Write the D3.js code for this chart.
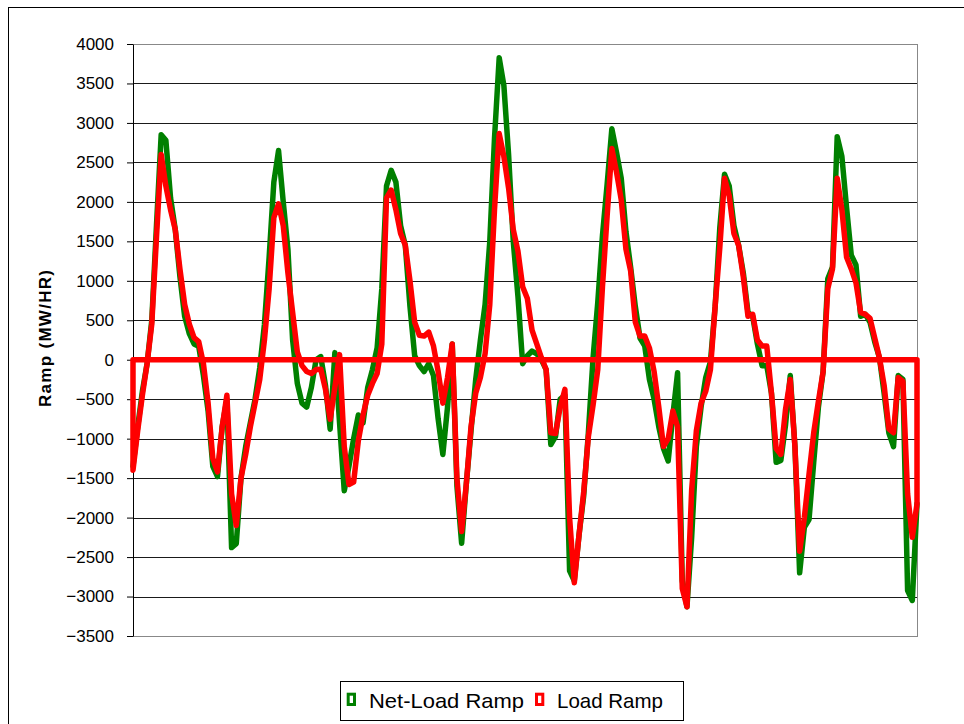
<!DOCTYPE html>
<html><head><meta charset="utf-8">
<script src="https://cdn.jsdelivr.net/npm/d3@7"></script>
<style>body{margin:0;background:#fff}</style>
</head><body>
<svg id="chart" width="964" height="724"></svg>
<script>
// Hourly ramp values (MW/HR) over 7 days
const netLoadRamp = [
  -1350, -850, -400, -50, 500, 1700, 2850, 2780, 2050, 1650, 1050, 550, 330, 200, 170, -200, -650, -1350, -1480, -850, -500, -2380, -2330, -1500,
  -1100, -800, -500, -100, 450, 1300, 2250, 2650, 2000, 1400, 250, -300, -550, -600, -350, 0, 40, -325, -880, 90, -800, -1660, -1350, -1000,
  -700, -800, -350, -125, 150, 900, 2200, 2400, 2250, 1700, 1450, 675, 50, -75, -150, -50, -200, -750, -1200, -600, 200, -1600, -2325, -1575,
  -900, -250, 250, 700, 1500, 2800, 3825, 3475, 2600, 1500, 800, -50, 50, 110, 75, 0, -125, -1075, -975, -500, -450, -2675, -2800, -2225,
  -1725, -925, 25, 725, 1575, 2225, 2925, 2625, 2300, 1625, 1175, 675, 275, 175, -250, -500, -850, -1125, -1283, -700, -165, -2800, -3130, -2250,
  -1100, -600, -225, -25, 675, 1675, 2350, 2200, 1700, 1450, 1100, 600, 550, 200, -75, -75, -425, -1300, -1275, -825, -200, -1100, -2700, -2125,
  -2025, -1300, -600, -150, 1025, 1175, 2825, 2575, 1925, 1325, 1200, 550, 575, 475, 225, 25, -425, -925, -1100, -200, -250, -2925, -3050, -1825
];
const loadRamp = [
  -1400, -900, -450, -50, 450, 1550, 2600, 2200, 1900, 1650, 1150, 700, 450, 280, 230, -50, -550, -1250, -1420, -850, -450, -1700, -2100, -1500,
  -1200, -850, -550, -250, 250, 900, 1800, 1975, 1700, 1100, 600, 100, -75, -150, -175, -125, -120, -375, -755, -350, 65, -1100, -1580, -1550,
  -1025, -700, -450, -300, -175, 200, 2050, 2150, 1900, 1600, 1450, 1000, 475, 310, 300, 350, 175, -150, -550, -225, 200, -1500, -2175, -1575,
  -850, -425, -225, 75, 700, 1900, 2865, 2575, 2175, 1650, 1375, 925, 775, 375, 200, 25, -125, -925, -935, -600, -375, -2000, -2825, -2225,
  -1675, -975, -575, -125, 925, 1825, 2675, 2375, 2025, 1400, 1125, 475, 300, 300, 150, -150, -600, -1100, -1000, -650, -850, -2900, -3130, -1650,
  -900, -550, -400, -125, 675, 1425, 2300, 2075, 1600, 1450, 1050, 550, 575, 250, 175, 175, -425, -1125, -1200, -625, -250, -1100, -2425, -2000,
  -1450, -925, -525, -150, 900, 1150, 2300, 1900, 1300, 1150, 975, 600, 575, 525, 275, 25, -325, -875, -925, -225, -275, -1700, -2250, -1825
];
const yTicks = [-3500, -3000, -2500, -2000, -1500, -1000, -500, 0, 500, 1000, 1500, 2000, 2500, 3000, 3500, 4000];
const seriesNames = ["Net-Load Ramp", "Load Ramp"];
const seriesColors = ["#008000", "#ff0000"];
const yTitle = "Ramp (MW/HR)";

const W = 964, H = 724;
const font = "'Liberation Sans', Arial, sans-serif";
const plot = {left: 133, right: 917, top: 44, bottom: 636};

const svg = d3.select("#chart");
svg.append("rect").attr("width", W).attr("height", H).attr("fill", "#fff");
svg.append("rect").attr("x", 8.5).attr("y", 7.5).attr("width", W).attr("height", H)
  .attr("fill", "none").attr("stroke", "#000");

const x = d3.scaleLinear().domain([0, netLoadRamp.length - 1]).range([plot.left, plot.right]);
const y = d3.scaleLinear().domain([d3.min(yTicks), d3.max(yTicks)]).range([plot.bottom, plot.top]);

// gridlines
svg.append("g").selectAll("line").data(yTicks).join("line")
  .attr("x1", plot.left).attr("x2", plot.right)
  .attr("y1", d => Math.round(y(d)) + 0.5).attr("y2", d => Math.round(y(d)) + 0.5)
  .attr("stroke", "#1a1a1a").attr("stroke-width", 1);

// plot frame
svg.append("rect")
  .attr("x", plot.left + 0.5).attr("y", Math.round(y(4000)) + 0.5)
  .attr("width", plot.right - plot.left)
  .attr("height", Math.round(y(-3500)) - Math.round(y(4000)))
  .attr("fill", "none").attr("stroke", "#888");

// y axis
const yAxis = svg.append("g").attr("transform", `translate(${plot.left},0)`)
  .call(d3.axisLeft(y).tickValues(yTicks).tickFormat(d3.format("d"))
    .tickSize(6).tickSizeOuter(0).tickPadding(13));
yAxis.select(".domain").attr("stroke", "#000");
yAxis.selectAll(".tick line").attr("stroke", "#000");
yAxis.selectAll(".tick text").attr("font-family", font).attr("font-size", 17).attr("fill", "#000");

// y title
svg.append("text")
  .attr("transform", "translate(51,338.5) rotate(-90)")
  .attr("text-anchor", "middle")
  .attr("font-family", font).attr("font-size", 17).attr("font-weight", "bold")
  .attr("textLength", 137).attr("lengthAdjust", "spacing")
  .text(yTitle);

// net-load ramp line
svg.append("path").datum(netLoadRamp)
  .attr("fill", "none").attr("stroke", seriesColors[0]).attr("stroke-width", 5.5)
  .attr("stroke-linejoin", "round").attr("stroke-linecap", "round")
  .attr("d", d3.line().x((d, i) => x(i)).y(d => y(d)));

// load ramp (outlined area, closed along zero)
svg.append("path").datum(loadRamp)
  .attr("fill", "none").attr("stroke", seriesColors[1]).attr("stroke-width", 5.5)
  .attr("stroke-linejoin", "round")
  .attr("d", d3.area().x((d, i) => x(i)).y0(y(0)).y1(d => y(d)));

// legend
const lg = svg.append("g");
lg.append("rect").attr("x", 340.5).attr("y", 681.5).attr("width", 343).attr("height", 39)
  .attr("fill", "#fff").attr("stroke", "#000");
const legendItems = [
  {name: seriesNames[0], color: seriesColors[0], mx: 348.2, tx: 369, tl: 155},
  {name: seriesNames[1], color: seriesColors[1], mx: 536.5, tx: 557, tl: 106}
];
legendItems.forEach(it => {
  lg.append("rect").attr("x", it.mx).attr("y", 694.2).attr("width", 6.3).attr("height", 10.3)
    .attr("fill", "#fff").attr("stroke", it.color).attr("stroke-width", 3);
  lg.append("text").attr("x", it.tx).attr("y", 707.5)
    .attr("font-family", font).attr("font-size", 21).attr("fill", "#000")
    .attr("textLength", it.tl).attr("lengthAdjust", "spacingAndGlyphs")
    .text(it.name);
});
</script>
</body></html>
